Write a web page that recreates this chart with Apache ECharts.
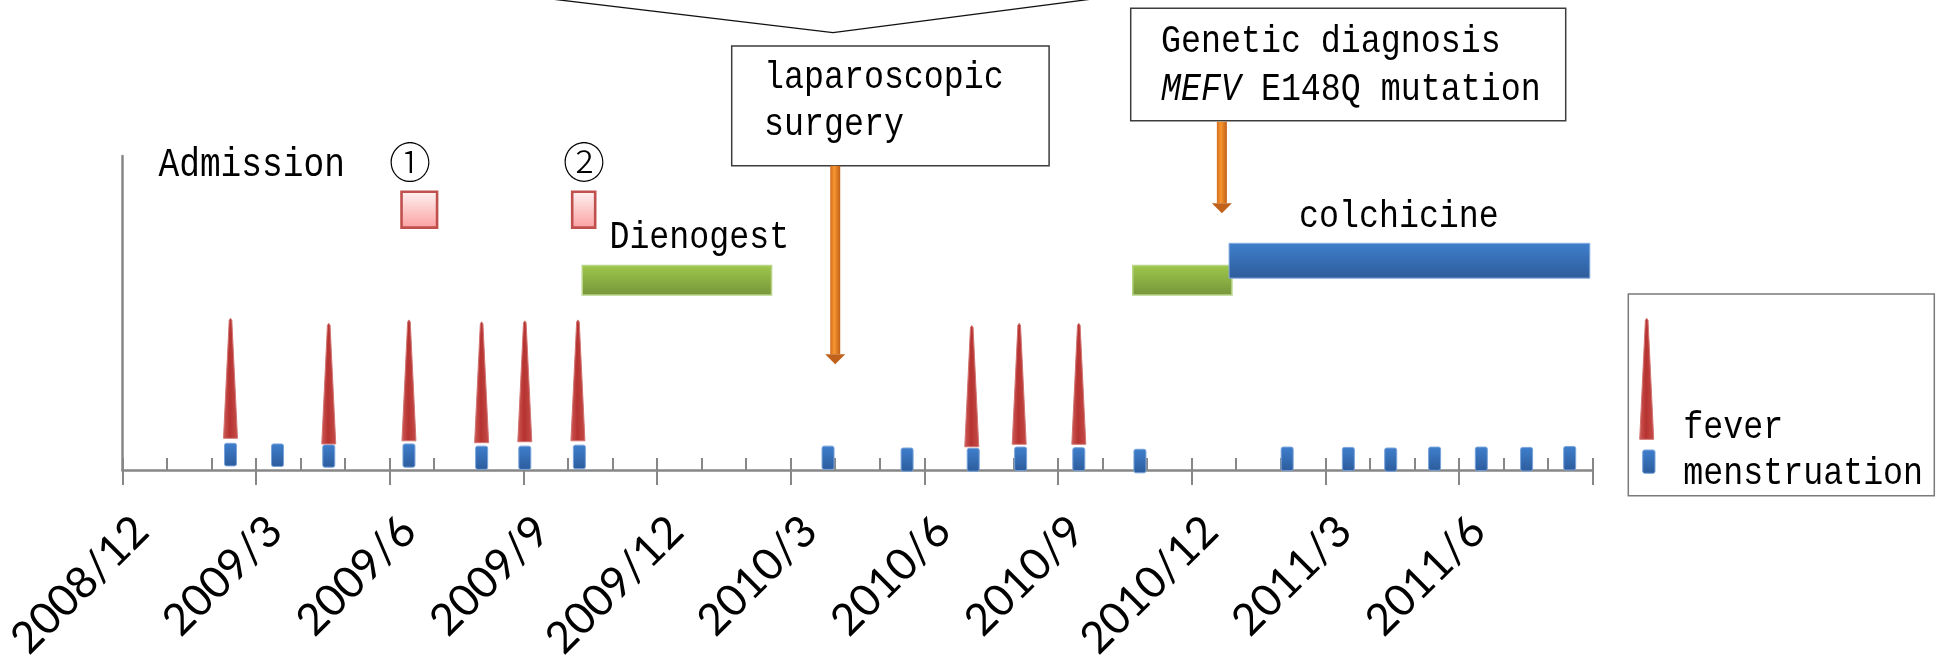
<!DOCTYPE html>
<html><head><meta charset="utf-8">
<script src="https://cdn.jsdelivr.net/npm/echarts@6/dist/echarts.min.js"></script>
<style>html,body{margin:0;padding:0;background:#fff}#c{width:1948px;height:664px}</style>
</head><body><div id="c"></div>
<script>
// ---------- data ----------
const tickLabels = ['2008/12','2009/3','2009/6','2009/9','2009/12','2010/3','2010/6','2010/9','2010/12','2011/3','2011/6'];

const feverDates = ['2009/2/13','2009/4/20','2009/6/14','2009/8/3','2009/9/2','2009/10/8','2010/7/3','2010/8/5','2010/9/15'];
const feverBase  = [10.1, 8.3, 9.3, 8.7, 9.0, 9.3, 7.4, 8.2, 8.2];
const feverTop   = [48.3, 46.7, 47.8, 47.2, 47.5, 47.8, 46.0, 46.7, 46.7];

const menDates = ['2009/2/13','2009/3/16','2009/4/20','2009/6/14','2009/8/3','2009/9/2','2009/10/9',
                  '2010/3/27','2010/5/20','2010/7/4','2010/8/6','2010/9/15','2010/10/27',
                  '2011/2/5','2011/3/17','2011/4/15','2011/5/15','2011/6/16','2011/7/17','2011/8/16'];
const menBottom = [1.3, 1.1, 0.9, 0.9, 0.2, 0.2, 0.4, 0.2, -0.4, -0.4, -0.2, -0.2, -0.9, -0.2, -0.2, -0.4, -0.1, -0.2, -0.3, 0.0];
const menTop    = [8.5, 8.3, 8.0, 8.3, 7.6, 7.6, 7.9, 7.6, 7.0, 6.9, 7.3, 7.1, 6.6, 7.3, 7.2, 7.0, 7.3, 7.3, 7.2, 7.5];

const admissionStart = ['2009/6/9', '2009/10/4'];
const admissionEnd   = ['2009/7/3', '2009/10/20'];
const admissionLow   = [77.2, 77.2];
const admissionHigh  = [88.6, 88.6];

const dienogestStart = ['2009/10/11', '2010/10/22'];
const dienogestEnd   = ['2010/2/17', '2010/12/29'];
const dienogestLow   = [55.7, 55.7];
const dienogestHigh  = [65.1, 65.1];

const colchicineStart = ['2010/12/27'];
const colchicineEnd   = ['2011/8/30'];
const colchicineLow   = [61.1];
const colchicineHigh  = [72.2];

const eventDates = ['2010/4/1', '2010/12/22'];   // laparoscopic surgery, genetic diagnosis
const eventTop   = [96.9, 110.9];
const eventTip   = [33.7, 81.8];

// ---------- helpers ----------
function toMonth(s){
  const [y,m,d] = s.split('/').map(Number);
  const dim = new Date(y, m, 0).getDate();
  return (y-2008)*12 + (m-12) + (d-1)/dim;
}
function vgrad(c0, c1){ return {type:'linear',x:0,y:0,x2:0,y2:1,colorStops:[{offset:0,color:c0},{offset:1,color:c1}]}; }
function hgrad(stops){ return {type:'linear',x:0,y:0,x2:1,y2:0,colorStops:stops}; }

const feverData = feverDates.map((d,i)=>[toMonth(d), feverBase[i], feverTop[i]]);
const menData = menDates.map((d,i)=>[toMonth(d), menBottom[i], menTop[i]]);
const admData = admissionStart.map((d,i)=>[toMonth(d), toMonth(admissionEnd[i]), admissionLow[i], admissionHigh[i]]);
const dieData = dienogestStart.map((d,i)=>[toMonth(d), toMonth(dienogestEnd[i]), dienogestLow[i], dienogestHigh[i]]);
const colData = colchicineStart.map((d,i)=>[toMonth(d), toMonth(colchicineEnd[i]), colchicineLow[i], colchicineHigh[i]]);
const evtData = eventDates.map((d,i)=>[toMonth(d), eventTop[i], eventTip[i]]);

const AX = '#878787';
const TXT_FONT = '"Liberation Mono", monospace';

function coneShape(cx, yb, yt){
  return [[cx-7, yb],[cx+7, yb],[cx+1.3, yt+2],[cx, yt],[cx-1.3, yt+2]];
}
const coneFill = hgrad([{offset:0,color:'#cf5a57'},{offset:0.45,color:'#b53330'},{offset:1,color:'#c64d4a'}]);
const menFill = vgrad('#3f7fcd','#2c5c9c');

function rangeSeries(name, data, fill, stroke, lw){
  return {
    type:'custom', name, xAxisIndex:0, yAxisIndex:0, clip:false, data,
    renderItem(params, api){
      const a = api.coord([api.value(0), api.value(3)]);
      const b = api.coord([api.value(1), api.value(2)]);
      return {type:'rect', shape:{x:a[0], y:a[1], width:b[0]-a[0], height:b[1]-a[1]},
              style:{fill, stroke, lineWidth:lw}};
    }
  };
}

function txt(text, left, baseline, size, sy, extra){
  const mid = baseline - 0.27*size*sy;
  return Object.assign({
    type:'text', x:left, y:mid, scaleY:sy, originX:0, originY:0, z:10,
    style:Object.assign({text, fontFamily:TXT_FONT, fontSize:size, fill:'#000', align:'left', verticalAlign:'middle'}, extra||{})
  });
}

const chart = echarts.init(document.getElementById('c'), null, {renderer:'canvas'});
const option = {
  animation:false,
  backgroundColor:'#fff',
  grid:[
    {left:122.3, right:355.3, top:156, bottom:194},
    {left:141.3, right:336.3, top:156, bottom:194}
  ],
  xAxis:[
    {type:'value', gridIndex:0, position:'bottom', min:0, max:33, interval:1,
     axisLine:{show:true, lineStyle:{color:AX, width:2.5}},
     axisTick:{show:true, inside:true, length:12, lineStyle:{color:AX, width:2}},
     axisLabel:{show:false}, splitLine:{show:false}},
    {type:'value', gridIndex:0, position:'bottom', min:0, max:33, interval:3,
     axisLine:{show:false},
     axisTick:{show:true, inside:false, length:15, lineStyle:{color:AX, width:2}},
     axisLabel:{show:false}, splitLine:{show:false}},
    {type:'value', gridIndex:1, position:'bottom', min:0, max:33, interval:3,
     axisLine:{show:false}, axisTick:{show:false}, splitLine:{show:false},
     axisLabel:{show:true, rotate:45, margin:60, color:'#000', fontFamily:'Lato', fontSize:44,
       formatter:v=> tickLabels[Math.round(v/3)] || ''}}
  ],
  yAxis:[
    {type:'value', gridIndex:0, min:0, max:100,
     axisLine:{show:true, lineStyle:{color:AX, width:2.5}},
     axisTick:{show:false}, axisLabel:{show:false}, splitLine:{show:false}},
    {type:'value', gridIndex:1, min:0, max:100, show:false}
  ],
  series:[
    rangeSeries('admission', admData, vgrad('#fff3f3','#fb9f9f'), '#c0504d', 2.6),
    rangeSeries('Dienogest', dieData, vgrad('#9fc74c','#76953a'), '#b8d486', 1.5),
    rangeSeries('colchicine', colData, vgrad('#3f7fcc','#2e5c9a'), '#89aee0', 1),
    {
      type:'custom', name:'menstruation', xAxisIndex:0, yAxisIndex:0, clip:false, data:menData,
      renderItem(params, api){
        const t = api.coord([api.value(0), api.value(2)]);
        const b = api.coord([api.value(0), api.value(1)]);
        return {type:'rect', shape:{x:t[0]-6, y:t[1], width:12, height:b[1]-t[1], r:2},
                style:{fill:menFill, stroke:'#79a3da', lineWidth:1}};
      }
    },
    {
      type:'custom', name:'fever', xAxisIndex:0, yAxisIndex:0, clip:false, data:feverData,
      renderItem(params, api){
        const b = api.coord([api.value(0), api.value(1)]);
        const t = api.coord([api.value(0), api.value(2)]);
        return {type:'polygon', shape:{points:coneShape(b[0], b[1], t[1])},
                style:{fill:coneFill, stroke:'#d27472', lineWidth:1}};
      }
    },
    {
      type:'custom', name:'events', xAxisIndex:0, yAxisIndex:0, clip:false, data:evtData, z:5,
      renderItem(params, api){
        const top = api.coord([api.value(0), api.value(1)]);
        const tip = api.coord([api.value(0), api.value(2)]);
        const cx = top[0];
        const fill = hgrad([{offset:0,color:'#d36d1e'},{offset:0.4,color:'#f7962f'},{offset:1,color:'#c25f18'}]);
        return {type:'group', children:[
          {type:'rect', shape:{x:cx-5, y:top[1], width:10, height:tip[1]-10-top[1]}, style:{fill}},
          {type:'polygon', shape:{points:[[cx-10,tip[1]-10],[cx+10,tip[1]-10],[cx,tip[1]]]}, style:{fill:'#c0621c'}}
        ]};
      }
    }
  ],
  graphic:[
    {type:'polyline', z:10, shape:{points:[[543,-2],[833,32.7],[1100,-2]]}, style:{stroke:'#111', lineWidth:1.3, fill:null}},
    {type:'rect', z:4, shape:{x:731.7, y:46, width:317.4, height:119.7}, style:{fill:'#fff', stroke:'#3c3c3c', lineWidth:1.5}},
    {type:'rect', z:4, shape:{x:1130.7, y:8.3, width:435, height:112.4}, style:{fill:'#fff', stroke:'#3c3c3c', lineWidth:1.5}},
    {type:'rect', z:4, shape:{x:1628.3, y:294, width:306, height:201.7}, style:{fill:'#fff', stroke:'#7a7a7a', lineWidth:1.5}},
    {type:'polygon', z:6, shape:{points:coneShape(1646.7, 439.3, 318.3)}, style:{fill:coneFill, stroke:'#d27472', lineWidth:1}},
    {type:'rect', z:6, shape:{x:1642.7, y:450, width:12.3, height:23.3, r:2}, style:{fill:menFill, stroke:'#79a3da', lineWidth:1}},
    txt('Admission', 158.5, 176.7, 34.5, 1.2),
    {type:'text', z:10, x:410, y:162, style:{text:'①', fontFamily:'"Noto Sans CJK JP"', fontWeight:300, fontSize:42, fill:'#000', align:'center', verticalAlign:'middle'}},
    {type:'text', z:10, x:584, y:162, style:{text:'②', fontFamily:'"Noto Sans CJK JP"', fontWeight:300, fontSize:42, fill:'#000', align:'center', verticalAlign:'middle'}},
    txt('Dienogest', 609.4, 248.3, 33.3, 1.14),
    txt('colchicine', 1299, 226.7, 33.3, 1.14),
    txt('laparoscopic', 764, 88.3, 33.3, 1.14),
    txt('surgery', 764, 135, 33.3, 1.14),
    txt('Genetic diagnosis', 1161, 51.7, 33.3, 1.14),
    txt('{i|MEFV} E148Q mutation', 1161, 100, 33.3, 1.14, {rich:{i:{fontStyle:'italic', fontFamily:TXT_FONT, fontSize:33.3, fill:'#000'}}}),
    txt('fever', 1683.3, 438.3, 33.3, 1.14),
    txt('menstruation', 1683.3, 484, 33.3, 1.14)
  ]
};
chart.setOption(option);
</script></body></html>
